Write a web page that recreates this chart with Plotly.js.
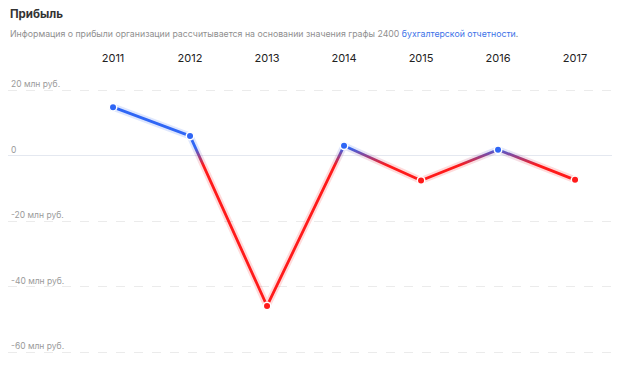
<!DOCTYPE html>
<html>
<head>
<meta charset="utf-8">
<script src="https://cdn.plot.ly/plotly-3.0.1.min.js"></script>
<style>
html,body{margin:0;padding:0;background:#fff;}
#chart{width:624px;height:371px;}
</style>
</head>
<body>
<div id="chart"></div>
<script>
// Data
const years = [2011, 2012, 2013, 2014, 2015, 2016, 2017];
const profit = [14.8, 6.0, -45.9, 3.0, -7.6, 1.8, -7.4]; // млн руб.
const yTickVals = [20, 0, -20, -40, -60];
const yTickText = ['20 млн руб.', '0', '-20 млн руб.', '-40 млн руб.', '-60 млн руб.'];

const BLUE = '#2f66f5';
const RED = '#ff1a1a';
const markerColors = profit.map(v => v >= 0 ? BLUE : RED);

const traces = [
  { // glow
    x: years, y: profit, type: 'scatter', mode: 'lines',
    line: {color: RED, width: 7}, opacity: 0.16, hoverinfo: 'skip', showlegend: false
  },
  { // main line
    x: years, y: profit, type: 'scatter', mode: 'lines',
    line: {color: RED, width: 2.8}, hoverinfo: 'skip', showlegend: false
  },
  { // points
    x: years, y: profit, type: 'scatter', mode: 'markers',
    marker: {color: markerColors, size: 7.5, line: {color: '#ffffff', width: 1.5}},
    showlegend: false
  }
];

const layout = {
  width: 624, height: 371,
  margin: {l: 8, r: 12, t: 77, b: 9},
  paper_bgcolor: '#ffffff', plot_bgcolor: '#ffffff',
  font: {family: 'Inter, Roboto, sans-serif', color: '#333'},
  xaxis: {
    range: [2009.636, 2017.48], side: 'top',
    tickvals: years, ticktext: years.map(String),
    showgrid: false, zeroline: false, showline: false,
    ticks: '', ticklabelstandoff: 12,
    tickfont: {size: 11, color: '#222', family: 'Inter, Roboto, sans-serif'},
    fixedrange: true
  },
  yaxis: {
    range: [-63, 24],
    tickvals: yTickVals, ticktext: yTickText,
    ticklabelposition: 'inside top',
    tickfont: {size: 8.5, color: '#9a9a9a', family: 'Inter, Roboto, sans-serif'},
    showgrid: true, gridcolor: '#ebebeb', griddash: 'dash', gridwidth: 1,
    zeroline: true, zerolinecolor: '#e4e8f0', zerolinewidth: 1,
    showline: false, ticks: '', fixedrange: true
  },
  annotations: [
    {xref: 'paper', yref: 'paper', x: 0, y: 1, xanchor: 'left', yanchor: 'middle',
     text: '<b>Прибыль</b>', showarrow: false,
     font: {size: 11.5, color: '#333', family: 'Inter, Roboto, sans-serif'}},
    {xref: 'paper', yref: 'paper', x: 0, y: 1, xanchor: 'left', yanchor: 'middle',
     text: 'Информация о прибыли организации рассчитывается на основании значения графы 2400 <span style="color:#3d72e8">бухгалтерской отчетности</span>.',
     showarrow: false, font: {size: 8.75, color: '#8f8f8f', family: 'Inter, Roboto, sans-serif'}}
  ]
};
// position title / subtitle in pixels relative to the plot top (77px from top)
const plotH = 371 - 77 - 9;
layout.annotations[0].y = 1 + (77 - 14) / plotH;
layout.annotations[1].y = 1 + (77 - 34) / plotH;

Plotly.newPlot('chart', traces, layout, {displayModeBar: false, staticPlot: true}).then(gd => {
  try {
    const ya = gd._fullLayout.yaxis;
    const svg = gd.querySelector('svg.main-svg');
    const ns = 'http://www.w3.org/2000/svg';
    let defs = svg.querySelector('defs');
    const grad = document.createElementNS(ns, 'linearGradient');
    grad.setAttribute('id', 'signGrad');
    grad.setAttribute('gradientUnits', 'userSpaceOnUse');
    grad.setAttribute('x1', '0'); grad.setAttribute('x2', '0');
    grad.setAttribute('y1', String(ya.l2p(2.5)));
    grad.setAttribute('y2', String(ya.l2p(-3)));
    [[0, BLUE], [1, RED]].forEach(([o, c]) => {
      const s = document.createElementNS(ns, 'stop');
      s.setAttribute('offset', String(o));
      s.setAttribute('stop-color', c);
      grad.appendChild(s);
    });
    defs.appendChild(grad);
    const paths = gd.querySelectorAll('.scatterlayer .trace .js-line');
    paths.forEach(p => { p.style.stroke = 'url(#signGrad)'; });
  } catch (e) { console.log(e); }
});
</script>
</body>
</html>
